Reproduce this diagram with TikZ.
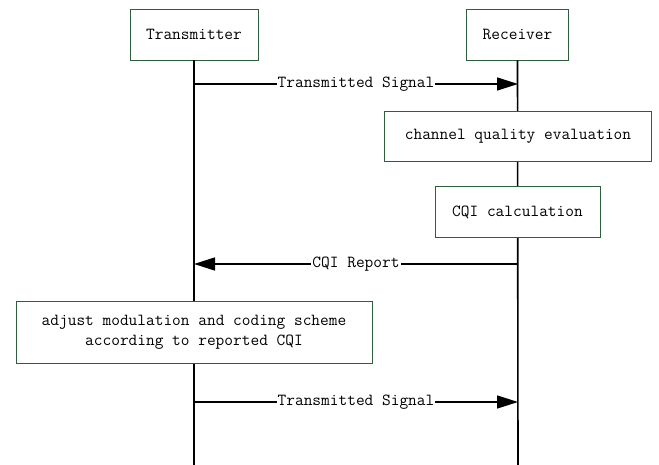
\documentclass[tikz,border=0pt]{standalone}
\usetikzlibrary{arrows.meta}
\definecolor{boxgreen}{HTML}{2E5E3E}
\begin{document}
\begin{tikzpicture}[x=1pt,y=-1pt,
  every node/.style={font=\fontsize{16.9}{20}\ttfamily},
  actor/.style={draw=boxgreen,line width=0.9pt,fill=white,minimum width=128pt,minimum height=51pt,inner sep=0pt},
  procbox/.style={draw=boxgreen,line width=0.9pt,fill=white,inner sep=0pt,align=center},
  life/.style={line width=1.6pt},
  msg/.style={line width=1.5pt,-{Triangle[length=21pt,width=13pt]}},
  msglabel/.style={fill=white,inner sep=1pt}]
\useasboundingbox (0,0) rectangle (659,465);
% lifelines
\coordinate (tend) at (194,465);
\coordinate (rend) at (518,465);
\node[actor] (tx) at (194,34.5) {Transmitter};
\node[actor,minimum width=102pt] (rx) at (517.5,34.5) {Receiver};
\draw[life] (tx.south) -- (tend);
\draw[life] (rx.south) -- (rend);
% boxes
\node[procbox,minimum width=267pt,minimum height=50pt] (cqe) at (518,136) {channel quality evaluation};
\node[procbox,minimum width=165pt,minimum height=51pt] (cqi) at (517.5,212) {CQI calculation};
\node[procbox,minimum width=356pt,minimum height=62pt] (adj) at (194,332) {adjust modulation and coding scheme\\according to reported CQI};
% message anchors
\coordinate (a1s) at (194,84);
\coordinate (a1e) at (518,84);
\coordinate (a2s) at (518,264);
\coordinate (a2e) at (194,264);
\coordinate (a3s) at (194,402);
\coordinate (a3e) at (518,402);
\draw[msg] (a1s) -- node[msglabel] {Transmitted Signal} (a1e);
\draw[msg] (a2s) -- node[msglabel] {CQI Report} (a2e);
\draw[msg] (a3s) -- node[msglabel] {Transmitted Signal} (a3e);
\end{tikzpicture}
\end{document}
